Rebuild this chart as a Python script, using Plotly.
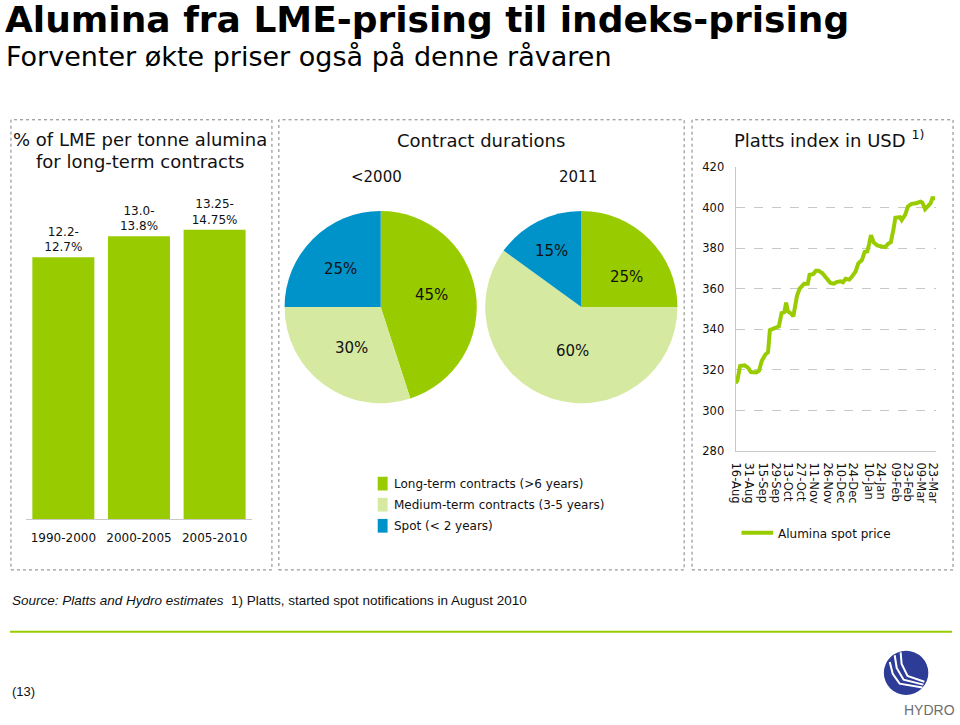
import plotly.graph_objects as go

W, H = 960, 725


def px(x):
    return x / W


def py(y):
    return 1 - y / H


# ---------------- data ----------------
bar_periods = ["1990-2000", "2000-2005", "2005-2010"]
bar_low = [12.2, 13.0, 13.25]
bar_high = [12.7, 13.8, 14.75]

pie_labels = ["Long-term contracts (&gt;6 years)",
              "Medium-term contracts (3-5 years)",
              "Spot (&lt; 2 years)"]
pie_2000 = [45, 30, 25]
pie_2011 = [25, 60, 15]
pie_titles = ["&lt;2000", "2011"]

spot_dates = [
    "2010-08-16", "2010-08-18", "2010-08-21", "2010-08-26", "2010-08-30",
    "2010-09-02", "2010-09-08", "2010-09-11", "2010-09-14", "2010-09-18",
    "2010-09-21", "2010-09-23", "2010-09-27", "2010-10-01", "2010-10-03",
    "2010-10-06", "2010-10-09", "2010-10-11", "2010-10-13", "2010-10-17",
    "2010-10-19", "2010-10-23", "2010-10-26", "2010-10-31", "2010-11-04",
    "2010-11-06", "2010-11-10", "2010-11-13", "2010-11-16", "2010-11-20",
    "2010-11-24", "2010-11-29", "2010-12-03", "2010-12-06", "2010-12-10",
    "2010-12-13", "2010-12-16", "2010-12-20", "2010-12-23", "2010-12-27",
    "2010-12-30", "2011-01-03", "2011-01-06", "2011-01-09", "2011-01-11",
    "2011-01-13", "2011-01-16", "2011-01-20", "2011-01-25", "2011-01-29",
    "2011-02-01", "2011-02-04", "2011-02-07", "2011-02-09", "2011-02-14",
    "2011-02-16", "2011-02-20", "2011-02-23", "2011-02-27", "2011-03-04",
    "2011-03-09", "2011-03-11", "2011-03-14", "2011-03-17", "2011-03-20",
    "2011-03-22", "2011-03-25",
]
spot_prices = [
    313.5, 314.8, 322.0, 322.3, 321.0,
    319.0, 318.8, 319.6, 324.4, 327.6,
    328.7, 339.6, 340.4, 341.2, 341.5,
    348.0, 348.4, 353.2, 348.9, 347.6,
    346.4, 356.4, 360.1, 362.4, 362.4,
    366.9, 367.2, 368.8, 368.8, 367.7,
    365.3, 362.9, 362.5, 363.3, 363.7,
    363.2, 364.9, 364.5, 366.0, 368.5,
    372.5, 374.1, 378.1, 378.4, 382.1,
    386.4, 382.9, 381.3, 380.8, 380.5,
    382.1, 382.9, 389.3, 394.9, 395.2,
    393.8, 396.5, 400.5, 401.8, 402.1,
    402.9, 402.4, 399.2, 400.8, 402.0,
    404.5, 404.5,
]
tick_dates = ["2010-08-16", "2010-08-31", "2010-09-15", "2010-09-29",
              "2010-10-13", "2010-10-27", "2010-11-11", "2010-11-26",
              "2010-12-10", "2010-12-24", "2011-01-10", "2011-01-24",
              "2011-02-09", "2011-02-23", "2011-03-09", "2011-03-23"]
tick_labels = ["16-Aug", "31-Aug", "15-Sep", "29-Sep", "13-Oct", "27-Oct",
               "11-Nov", "26-Nov", "10-Dec", "24-Dec", "10-Jan", "24-Jan",
               "09-Feb", "23-Feb", "09-Mar", "23-Mar"]
y_ticks = [280, 300, 320, 340, 360, 380, 400, 420]
line_name = "Alumina spot price"

# ---------------- style ----------------
GREEN = "#99CC00"
LIGHT = "#D6E9A0"
BLUE = "#0093C9"
pie_colors = [GREEN, LIGHT, BLUE]
FONT = "DejaVu Sans"
TXT = "#111111"
GRID = "#C8C8C8"

fig = go.Figure()

# bar chart
fig.add_trace(go.Bar(
    x=bar_periods, y=bar_low,
    text=[f"{lo}-<br>{hi}%" for lo, hi in zip(bar_low, bar_high)],
    textposition="outside", cliponaxis=False,
    textfont=dict(family=FONT, size=12, color=TXT),
    marker=dict(color=GREEN, line=dict(width=0)),
    xaxis="x", yaxis="y", showlegend=False, hoverinfo="skip",
))

# pies
pie_boxes = [(280, 476), (483, 679)]
for vals, (x0, x1) in zip([pie_2000, pie_2011], pie_boxes):
    fig.add_trace(go.Pie(
        labels=pie_labels, values=vals, sort=False, direction="clockwise",
        rotation=0, textinfo="none", hoverinfo="skip",
        marker=dict(colors=pie_colors, line=dict(width=0)),
        domain=dict(x=[px(x0), px(x1)], y=[py(404), py(208)]),
        showlegend=False,
    ))

# line chart
fig.add_trace(go.Scatter(
    x=spot_dates, y=spot_prices, mode="lines", name=line_name,
    line=dict(color=GREEN, width=4), xaxis="x2", yaxis="y2",
    showlegend=False, hoverinfo="skip",
))

shapes = []
annotations = []

# panels
for x0, x1 in [(4, 268), (275, 685), (693, 957)]:
    shapes.append(dict(type="rect", xref="paper", yref="paper",
                       x0=px(x0), x1=px(x1), y0=py(574), y1=py(115),
                       line=dict(color="#808080", width=1, dash="dot")))


def ann(text, x, y, size, xanchor="center", color=TXT, family=FONT, **kw):
    annotations.append(dict(text=text, x=px(x), y=py(y), xref="paper", yref="paper",
                            xanchor=xanchor, yanchor="middle", showarrow=False,
                            font=dict(family=family, size=size, color=color), **kw))


# titles
ann("<b>Alumina fra LME-prising til indeks-prising</b>", -4, 13, 36, xanchor="left", color="#000")
ann("Forventer økte priser også på denne råvaren", -3, 50, 27, xanchor="left", color="#000")

ann("% of LME per tonne alumina", 135, 135, 18)
ann("for long-term contracts", 135, 158, 18)
ann("Contract durations", 479, 136, 18)
ann(pie_titles[0], 374, 173, 15)
ann(pie_titles[1], 578, 173, 15)
ann("Platts index in USD <sup>1)</sup>", 832, 135, 18)

# pie slice labels
label_pos = [[(429, 294), (348, 348), (337, 267)],
             [(627, 275), (572, 351), (551, 249)]]
for vals, poss in zip([pie_2000, pie_2011], label_pos):
    for v, (x, y) in zip(vals, poss):
        ann(f"{v}%", x, y, 15)

# pie legend
for i, (lab, col) in enumerate(zip(pie_labels, pie_colors)):
    yc = 486 + i * 21.5
    shapes.append(dict(type="rect", xref="paper", yref="paper",
                       x0=px(375), x1=px(385), y0=py(yc + 7), y1=py(yc - 7),
                       fillcolor=col, line=dict(width=0)))
    ann(lab, 389, yc, 12, xanchor="left")

# line legend
shapes.append(dict(type="line", xref="paper", yref="paper",
                   x0=px(743), x1=px(775), y0=py(536), y1=py(536),
                   line=dict(color=GREEN, width=4)))
ann(line_name, 778, 537, 12, xanchor="left")

# footer
shapes.append(dict(type="line", xref="paper", yref="paper",
                   x0=px(3), x1=px(956), y0=py(637), y1=py(637),
                   line=dict(color=GREEN, width=2)))
ann("<i>Source: Platts and Hydro estimates</i>  1) Platts, started spot notifications in August 2010",
    3, 605, 13.5, xanchor="left", family="Liberation Sans")
ann("(13)", 3, 698, 13, xanchor="left", family="Liberation Sans")

# Hydro logo
LOGO = "#2D3C96"
shapes.append(dict(type="circle", xref="paper", yref="paper",
                   x0=px(887), x1=px(932), y0=py(701.5), y1=py(656.5),
                   fillcolor=LOGO, line=dict(width=0)))


def pth(points):
    return "M " + " L ".join(f"{px(x):.5f},{py(y):.5f}" for x, y in points)


for pts in [[(893, 668), (896, 680), (903, 690), (926, 694)],
            [(898, 661), (900, 674), (907, 686), (927, 691)],
            [(904, 658), (905, 670), (911, 682), (928, 688)]]:
    shapes.append(dict(type="path", xref="paper", yref="paper", path=pth(pts),
                       line=dict(color="white", width=2)))
ann("HYDRO", 933, 717, 14, color="#6E6E6E", family="Liberation Sans")

fig.update_layout(
    width=W, height=H, margin=dict(l=0, r=0, t=0, b=0),
    paper_bgcolor="white", plot_bgcolor="white",
    shapes=shapes, annotations=annotations, bargap=0.18,
    xaxis=dict(domain=[px(18.75), px(248.25)], showgrid=False, zeroline=False,
               showline=True, linecolor="#C8C8C8", linewidth=1, ticks="",
               ticklabelstandoff=8,
               tickfont=dict(family=FONT, size=12, color=TXT), fixedrange=True),
    yaxis=dict(domain=[py(522), py(200)], range=[2.2, 14.27], visible=False),
    xaxis2=dict(domain=[px(737), px(940)], type="date", anchor="y2",
                range=["2010-08-16", "2011-03-26 08:00"],
                tickvals=tick_dates, ticktext=tick_labels, tickangle=90,
                showgrid=False, zeroline=False, showline=True, linecolor=GRID,
                ticks="", ticklabelstandoff=8,
                tickfont=dict(family=FONT, size=11.5, color=TXT)),
    yaxis2=dict(domain=[py(453), py(163)], anchor="x2", range=[280, 420],
                tickvals=y_ticks, showgrid=True, gridcolor=GRID,
                griddash="dash", zeroline=False, showline=True, linecolor=GRID,
                ticks="", ticklabelstandoff=8,
                tickfont=dict(family=FONT, size=11.5, color=TXT)),
)

fig.write_html("out.html")
